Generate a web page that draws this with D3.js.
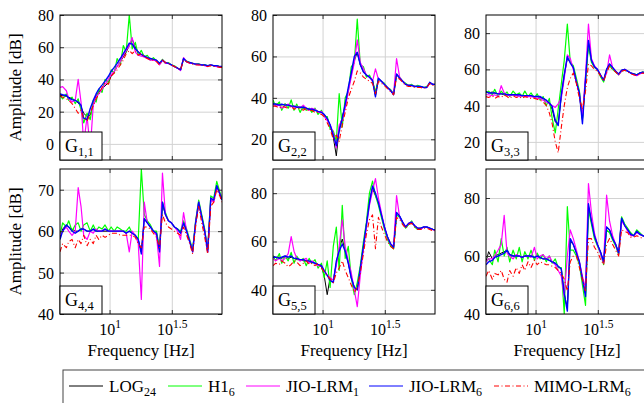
<!DOCTYPE html>
<html>
<head>
<meta charset="utf-8">
<script src="https://cdn.jsdelivr.net/npm/d3@7"></script>
<style>
  body { margin: 0; background: #fff; }
</style>
</head>
<body>
<svg id="chart" width="644" height="403"></svg>
<script>
// frequency points [Hz], shared by every panel
const freqs = [4.0,4.2,4.5,4.7,5.0,5.3,5.6,5.9,6.2,6.6,7.0,7.4,7.8,8.2,8.7,9.2,9.8,10.3,10.9,11.5,12.2,12.9,13.6,14.4,15.2,16.1,17.0,18.0,19.0,20.1,21.3,22.5,23.8,25.2,26.6,28.1,29.7,31.4,33.2,35.2,37.2,39.3,41.6,44.0,46.5,49.1,52.0,55.0,58.1,61.4,65.0,68.7,72.6,76.8,80.0];

// G1,1
const g11Log  = [30,30,29.5,29,28,27,25.5,23,19,17,18,24,30,32,34,36,38,42,45,48,51,54,57,61,65,60,57,55.5,54.5,53.5,53,52.5,52,49.5,52,50.5,50,49,48,47,46,53,51,50.5,50,49.5,49.5,49,49,48.5,49,48.5,48.5,48,48];
const g11H1   = [30,28,31,27,29,25,28,21,13,19,15,27,26,34,32,40,38,46,44,53,49,61,57,80,59,63,55,58,54,55,52,53.5,51.5,50,52.5,50,50.5,49,48.5,47,46,53,51.5,50.5,50,49.5,49.5,49,49,48.5,49,48.5,48.5,48,48];
const g11Jio1 = [35,35.5,33,28,26,27,40,26,0,17,-3,24,29,31,34,37,40,43,45,48,51,55,58,61,66,57,55,54.5,54,53,52,52,51.5,49,52,50,50,49,48,47,45.5,53.5,51,50,50,49.5,49,49,48.5,48,49,48.5,48,47.5,47.5];
const g11Jio6 = [31,30.5,30,28.5,27.5,27,26,24,16,15,22,27,31,34,36.5,39,42,45,47.5,50,53,56,59,62.5,62,59,57,55.5,54.5,53.5,53,52.5,52,50,52,50.5,50,49,48,47,46,53,51,50.5,50,49.5,49.5,49,49,48.5,49,48.5,48.5,48,48];
const g11Mimo = [30,29,28,27,25,22,19,21,16,14,19,24,28,31,35,38,37,42,44,46,49,52,56,58,56,58,55,56,54,53,52,52,51,49,52,50.5,50,49,48,47,46,52,51,50,49.5,49,49,49,48.5,48,48.5,48,48,47.5,47.5];

// G2,2
const g22Log  = [37.5,37,37,36.5,37,36.5,36,36,35.5,35.5,35,35,34.5,34.5,34,33.5,33,32,30,27,21,12,25,31,36,44,51,58,62,56,52.5,51,50,48.5,41,49.5,48,46.5,45,43.5,41.5,51.5,49.5,48,46.5,46,46,45.5,45.5,45.5,45,45,47.5,46.5,46.5];
const g22H1   = [39,36,38,34,37,35,39,34,37,33,36,34,35,33,35,32,34,31,31,25,24,19,42,26,40,43,55,57,78,56,55,50,51,48,43,49,48,47,45,44,42,51,50,48,47,46,46.5,45.5,46,45.5,45,45.5,47,46.5,46.5];
const g22Jio1 = [37,36,36.5,35,36,37,36,35,36,35,36.5,35,34,35,34.5,33,33.5,31,29,27,23,16,27,29,35,43,50,57,68,57,54,51,50,48,54,49,48,46.5,45,43.5,42,59,50,48,46.5,46,46,45.5,45.5,45,45,45,47,46.5,46.5];
const g22Jio6 = [37,37,36.5,37,36.5,36.5,36,36,35.5,35.5,35.5,35,34.5,34.5,34,33.5,33,32,30,27,22,17,24,30,37,45,52,60,62,56,52.5,51,50,48.5,40.5,49.5,48,46.5,45,43.5,41.5,51.5,49.5,48,46.5,46,46,45.5,45.5,45.5,45,45,47.5,46.5,46.5];
const g22Mimo = [36,36,35,36,35.5,35,36,34.5,35,35,34,35,33.5,34,33,33,32,31,28,25,20,22,19,27,33,40,44,48,53,52,50,49,48,47,42,48,47,46,44.5,43,41.5,50,49,47.5,46,45.5,45.5,45,45,45,44.5,45,47,46,46];

// G3,3
const g33Log  = [48,47,47.5,47,46.5,46.5,46,46,46,46,45.5,46,45.5,45.5,45,45.5,45,45,44.5,44,43,41,38,31,30,45,57,66,64,61,53,46,32,54,75,65,61.5,60,57,54,60,63,61,59,57.5,59.5,60,59,58,57.5,57,58,58.5,58,57.5];
const g33H1   = [47,48,46,49,45,48,46,47.5,45,48,46,47,45,48,45,47,44,46.5,43,45,40,44,33,25,38,52,65,85,64,62,55,48,33,53,73,64,61,60,56,53,59,62,60,58.5,57,59,59.5,59,58,57.5,57,58,58.5,58,57.5];
const g33Jio1 = [46,46,45.5,46,45,51,47,46,45.5,46,45.5,45,45.5,45,45,45,44.5,44,44,43,42,41,40,39,41,44,55,68,66,60,53,46,34,57,85,66,62,60,57,54,58,68,61,59,57,59,60,59,58,57,56.5,57.5,58,58,57.5];
const g33Jio6 = [47.5,47,47,47,46.5,46.5,46.5,46,46,46,46,46,45.5,45.5,45.5,45.5,45,45,45,44,43,41.5,39.5,32,29,46,57,67,63.5,61,53,47,30,55,76,65,61.5,60,57,54,60,63,61,59,57.5,59.5,60,59,58,57.5,57,58,58.5,58,57.5];
const g33Mimo = [45,44.5,45.5,44,45,44.5,46,45,44,45.5,44.5,45,44,45,44.5,44,44,43.5,43,42,40,36,30,20,14,28,40,50,55,58,52,44,38,48,63,62,60,59,56.5,53.5,58,62,60,58.5,57,59,59.5,58.5,57.5,57,56.5,57.5,58,57.5,57];

// G4,4
const g44Log  = [58.5,60.5,61.5,61,60.5,60,60,60.5,60.5,60,60,60.5,60,60,60,60,60,60,60,60,60,60,59.5,60,59.5,59,58,55,63,62,61,60,59.5,55.5,66.5,64,62.5,62,61,60.5,59.5,62,60,57.5,55.5,62,66.5,63.5,60,55.5,67.5,67.5,71,69,67.5];
const g44H1   = [59,62,61,62.5,60,61.5,62,60,61.5,62,60,61.5,60,61,60.5,61.5,60,61,60,61,60.5,60,60,61,59.5,59,58,75,64,62.5,61.5,60,60,56,67,64.5,62.5,62,61,60.5,60,62.5,60.5,58,55.5,62.5,67.5,64,60.5,55.5,68.5,68,72,69.5,68];
const g44Jio1 = [59,60,61,60,59,60,70.5,66,59,58,60,59.5,60.5,60,60,60.5,60,60,60,60,60,60,59.5,55,60,59,57,43.5,67,62,61,60,59,51.5,74,64,62.5,62,61,60,58,64.5,60,57.5,55,62,67,63,60,55,67.5,67,70.5,69,67.5];
const g44Jio6 = [58,60,61.5,61,60,59.5,60,60.5,60.5,60,60,60.5,60,60,60,60.5,60,60,60,60,60,60,59.5,60,59.5,59,58,54.5,63,62,61,60,59.5,55,67,64,62.5,62,61,60.5,59.5,62,60,57.5,55,62,67,63.5,60,55,68,67.5,71,69,67.5];
const g44Mimo = [55,57,56,57.5,58,56,58,57,59,56.5,58,57,59,58,59,58.5,59,59.5,59.5,59.5,59,59,59,59,59,58.5,57,56,61,61,60.5,59.5,58.5,56,64,62,61,60.5,60,59.5,59,61,59,57,54.5,61,66,62,58.5,54.5,66,67,70,68.5,67];

// G5,5
const g55Log  = [54,53.5,53.5,53,54,53,53.5,53,52.5,52.5,52,52,51.5,51.5,51,50.5,49.5,46,38,45,44,51,57,61,56,51,45,41,40,49,58,67,77,82,79,76,71,66,62,59,57.5,72,70.5,68,66,67.5,68,66.5,65.5,65.5,66,66,65.5,65,64.8];
const g55H1   = [54,52,55,51,54,52,55.5,51,54,52,53,50,53,51,52.5,49,51,45,52,41,58,66,48,75,53,58,45,38,43,50,60,68,80,85,79,75,70,65,61,58,57,71,70,67.5,65.5,67,68.5,66,65,65.5,66,66,65.5,65,64.8];
const g55Jio1 = [53,52,53,52,53,55,62,56,53,52,52.5,53,51,52,51,50,50,48,46,45,44,50,58,69,58,52,47,40,33,46,57,66,75,81,86,78,72,66,62,59,58,79,70,68,66,67.5,68,66.5,65.5,65,66,66,65.5,65,64.5];
const g55Jio6 = [53.5,53.5,53,53.5,54,53.5,54,53,53,52.5,52.5,52,52,51.5,51,50.5,50,48,46,44,43,52,56,59,56,51,45,41,40,49,58,67,76,83,80,76,71,66,62,59,57.5,72,70.5,68,66,67.5,68,66.5,65.5,65.5,66,66,65.5,65,64.8];
const g55Mimo = [50,51,50.5,52,51,49.5,50.5,52,51.5,50,51,52,50.5,51,50,51,49,47.5,46,44.5,43,47,49,52,48,45,42,39,41,47,55,63,69,71,57,70,66,63,60,58,57,70,69,67,65.5,67,67.5,66,65,65,65.5,65.5,65,64.5,64.5];

// G6,6
const g66Log  = [58,61.5,59,60,60.5,61,61.5,62,60.5,60,60,60,59.5,60,60,60,59.5,60,59.5,59,59,58.5,58,57.5,56.5,55.5,47,42,65,64,61,58,52,47,77,72,67,64,61.5,58,70,69,66,64,61,73,70.5,69,67.5,67,68.5,67.5,67,66.5,66.5];
const g66H1   = [58,59,57,62,58,66,60,63,58,62,59,63,58,61.5,59,62,58.5,61,59,60.5,58,60,57.5,59,56,56,40,77,62,62,60,57,50,43,76,71,66,63.5,61,57,69,68,65.5,63.5,60.5,73.5,71,69.5,68,67,69,68,67,66.5,66.5];
const g66Jio1 = [58,59,59,60,62,64,74,61,60,59,60.5,60,59.5,60,60,59.5,63,59,60,60.5,59,60,58,57,55,53,46,60,69,66,62,58,53,49,85,75,68,64,61,57.5,81,72,67,64,61,72,70.5,68.5,67,67,68,67.5,67,66.5,66];
const g66Jio6 = [57,58,58.5,59.5,60,60.5,61,62,60.5,60,60,60,59.5,60,60,60,59.5,60,59.5,59,59,58.5,58,57.5,56.5,55.5,47,41,66,64,61,58,52,46,78,72,67,64,61.5,58,70,69,66,64,61,73,70.5,69,67.5,67,68.5,67.5,67,66.5,66.5];
const g66Mimo = [53,55,52,54,53.5,55,52,51,55,53,56,54,57,55,58,56,58.5,57,58,57.5,57,57,56.5,56,55,54,52,48,58,60,60,56,52,48,66,66,63,61.5,59,57,64,66,64,62,60,69,68.5,68,66.5,66.5,67,66.5,66,66,65.5];

const panelSubs = ["1,1", "2,2", "3,3", "4,4", "5,5", "6,6"];
const yDomains = [[-10, 80], [10, 80], [10, 90], [40, 75], [30, 90], [40, 90]];
const yTicks = [[0, 20, 40, 60, 80], [20, 40, 60, 80], [20, 40, 60, 80], [40, 50, 60, 70], [40, 60, 80], [40, 60, 80]];
const xTicks = [10, 31.6228];
const xTickExp = ["1", "1.5"];
const legendMain = ["LOG", "H1", "JIO-LRM", "JIO-LRM", "MIMO-LRM"];
const legendSub = ["24", "6", "1", "6", "6"];

const panelData = [
  [g11Log, g11H1, g11Jio1, g11Jio6, g11Mimo],
  [g22Log, g22H1, g22Jio1, g22Jio6, g22Mimo],
  [g33Log, g33H1, g33Jio1, g33Jio6, g33Mimo],
  [g44Log, g44H1, g44Jio1, g44Jio6, g44Mimo],
  [g55Log, g55H1, g55Jio1, g55Jio6, g55Mimo],
  [g66Log, g66H1, g66Jio1, g66Jio6, g66Mimo]
];

const colors = ["#000000", "#00ff00", "#ff00ff", "#0000ff", "#ff0000"];
const widths = [1, 1.2, 1.2, 1.4, 1.1];
const dashes = [null, null, null, null, "5,2.5,1,2.5"];
const serif = "'Liberation Serif', 'Times New Roman', serif";

const svg = d3.select("#chart");
const W = 162, H = 145;
const lefts = [60, 273, 486], tops = [15, 169];
const x = d3.scaleLog().domain([4, 80]).range([0, W]);

function cleanAxis(sel) {
  sel.attr("font-size", null).attr("font-family", null);
  sel.select(".domain").remove();
}

panelData.forEach((series, k) => {
  const col = k % 3, row = Math.floor(k / 3);
  const g = svg.append("g").attr("transform", `translate(${lefts[col]},${tops[row]})`);
  const y = d3.scaleLinear().domain(yDomains[k]).range([H, 0]);

  // grid
  g.append("g").call(d3.axisLeft(y).tickValues(yTicks[k]).tickSize(-W).tickFormat(""))
    .call(cleanAxis).selectAll("line").attr("stroke", "#d2d2d2");
  g.append("g").attr("transform", `translate(0,${H})`)
    .call(d3.axisBottom(x).tickValues(xTicks).tickSize(-H).tickFormat(""))
    .call(cleanAxis).selectAll("line").attr("stroke", "#d2d2d2");

  // curves
  g.append("clipPath").attr("id", "clip" + k)
    .append("rect").attr("width", W).attr("height", H);
  const line = d3.line().x((d, i) => x(freqs[i])).y(d => y(d));
  g.append("g").attr("clip-path", `url(#clip${k})`)
    .selectAll("path").data(series).join("path")
    .attr("d", line)
    .attr("fill", "none")
    .attr("stroke", (d, i) => colors[i])
    .attr("stroke-width", (d, i) => widths[i])
    .attr("stroke-dasharray", (d, i) => dashes[i])
    .attr("stroke-linejoin", "round");

  // inward ticks on all sides
  const yl = g.append("g").call(d3.axisLeft(y).tickValues(yTicks[k]).tickSize(-4).tickPadding(6))
    .call(cleanAxis);
  yl.selectAll("line").attr("stroke", "#333");
  yl.selectAll("text").attr("font-size", 16).attr("dy", "0.34em");
  g.append("g").attr("transform", `translate(${W},0)`)
    .call(d3.axisRight(y).tickValues(yTicks[k]).tickSize(-4).tickFormat(""))
    .call(cleanAxis).selectAll("line").attr("stroke", "#333");
  g.append("g").call(d3.axisTop(x).tickValues(xTicks).tickSize(-4).tickFormat(""))
    .call(cleanAxis).selectAll("line").attr("stroke", "#333");
  const xb = g.append("g").attr("transform", `translate(0,${H})`)
    .call(d3.axisBottom(x).tickValues(xTicks).tickSize(-4).tickFormat(""))
    .call(cleanAxis);
  xb.selectAll("line").attr("stroke", "#333");

  if (row === 1) {
    xb.selectAll(".tick").append("text")
      .attr("y", 21).attr("text-anchor", "middle").attr("font-size", 16)
      .each(function (d, i) {
        const t = d3.select(this);
        t.append("tspan").text("10");
        t.append("tspan").attr("dy", -7).attr("font-size", 11.5).text(xTickExp[i]);
      });
    g.append("text").attr("x", W / 2).attr("y", H + 42)
      .attr("text-anchor", "middle").attr("font-size", 17).text("Frequency [Hz]");
  }

  // frame
  g.append("rect").attr("width", W).attr("height", H)
    .attr("fill", "none").attr("stroke", "#000").attr("stroke-width", 1);

  // panel name box
  g.append("rect").attr("x", 0).attr("y", H - 28).attr("width", 42).attr("height", 28)
    .attr("fill", "#fff").attr("stroke", "#000").attr("stroke-width", 1);
  const nt = g.append("text").attr("x", 5).attr("y", H - 8).attr("font-size", 18);
  nt.append("tspan").text("G");
  nt.append("tspan").attr("dy", 4).attr("font-size", 12.5).text(panelSubs[k]);

  if (col === 0) {
    svg.append("text")
      .attr("transform", `translate(21,${tops[row] + H / 2}) rotate(-90)`)
      .attr("text-anchor", "middle").attr("font-size", 17).text("Amplitude [dB]");
  }
});

// legend
const legendX = [69, 168, 246, 369, 494];
const legendY = 386;
svg.append("rect").attr("x", 63).attr("y", 370).attr("width", 600).attr("height", 40)
  .attr("fill", "#fff").attr("stroke", "#444").attr("stroke-width", 1);
const items = svg.append("g").selectAll("g").data(legendMain).join("g")
  .attr("transform", (d, i) => `translate(${legendX[i]},${legendY})`);
items.append("line").attr("x1", 0).attr("x2", 34).attr("y1", 0).attr("y2", 0)
  .attr("stroke", (d, i) => colors[i])
  .attr("stroke-width", 1)
  .attr("stroke-dasharray", (d, i) => dashes[i]);
const lt = items.append("text").attr("x", 40).attr("y", 0).attr("dy", "0.34em").attr("font-size", 17);
lt.append("tspan").text(d => d);
lt.append("tspan").attr("dy", 4).attr("font-size", 12).text((d, i) => legendSub[i]);

svg.selectAll("text").style("font-family", serif).style("fill", "#000");
</script>
</body>
</html>
